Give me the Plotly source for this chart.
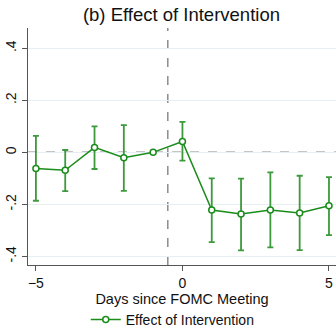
import plotly.graph_objects as go

days = [-5, -4, -3, -2, -1, 0, 1, 2, 3, 4, 5]
effect = [-0.062, -0.069, 0.019, -0.021, 0.0, 0.042, -0.222, -0.237, -0.222, -0.233, -0.205]
upper = [0.063, 0.009, 0.100, 0.105, 0.0, 0.117, -0.100, -0.101, -0.077, -0.090, -0.095]
lower = [-0.186, -0.149, -0.064, -0.148, 0.0, -0.032, -0.345, -0.377, -0.365, -0.376, -0.318]
ytick_vals = [-0.4, -0.2, 0, 0.2, 0.4]
ytick_text = ["-.4", "-.2", "0", ".2", ".4"]
xtick_vals = [-5, 0, 5]

line_green = "#1a8c1a"
bar_green = "#3c9a3c"
font = "Liberation Sans, Arial, Helvetica, sans-serif"

fig = go.Figure()
fig.add_trace(go.Scatter(
    x=days, y=effect, mode="markers",
    marker=dict(size=1, opacity=0),
    error_y=dict(type="data", symmetric=False,
                 array=[u - e for u, e in zip(upper, effect)],
                 arrayminus=[e - l for e, l in zip(effect, lower)],
                 color=bar_green, thickness=1.8, width=3),
    showlegend=False, hoverinfo="skip"))
fig.add_trace(go.Scatter(
    x=days, y=effect, mode="lines+markers", name="Effect of Intervention",
    line=dict(color=line_green, width=1.5),
    marker=dict(symbol="circle", size=6, color="white",
                line=dict(color=line_green, width=1.5))))

fig.add_shape(type="line", xref="x", yref="paper", x0=-0.5, x1=-0.5, y0=0, y1=1,
              line=dict(color="#8c8c8c", width=1.5, dash="dash"), layer="below")
fig.add_shape(type="line", xref="paper", yref="y", x0=0, x1=1, y0=0, y1=0,
              line=dict(color="#8c8c8c", width=1.5, dash="dash"), layer="below")

fig.update_layout(
    width=336, height=330,
    margin=dict(l=28, r=0, t=28, b=65, autoexpand=False),
    paper_bgcolor="white", plot_bgcolor="white",
    font=dict(family=font, size=14, color="#111"),
    title=dict(text="(b) Effect of Intervention", x=0.54, xanchor="center",
               y=0.955, yanchor="middle", font=dict(size=18.5, family=font, color="#111")),
    xaxis=dict(range=[-5.27, 5.24], tickvals=xtick_vals, ticks="outside", ticklen=5,
               tickcolor="#555", showline=True, linecolor="#555", linewidth=1.2,
               showgrid=False, zeroline=False, automargin=False,
               title=dict(text="Days since FOMC Meeting", standoff=0,
                          font=dict(size=14.5, family=font)),
               tickfont=dict(size=14)),
    yaxis=dict(range=[-0.433, 0.478], tickvals=ytick_vals, ticktext=ytick_text,
               tickangle=-90, ticks="outside", ticklen=5, tickcolor="#555",
               showline=True, linecolor="#555", linewidth=1.2, automargin=False,
               showgrid=True, gridcolor="#e6eff2", gridwidth=1, zeroline=False,
               tickfont=dict(size=14)),
    legend=dict(orientation="h", x=0.47, xanchor="center", y=-0.232, yanchor="middle",
                font=dict(size=14, family=font), tracegroupgap=0, itemwidth=30),
)

fig.write_html("out.html", config={"displayModeBar": False},
               post_script="document.body.style.margin='0px';document.body.style.overflow='hidden';")
